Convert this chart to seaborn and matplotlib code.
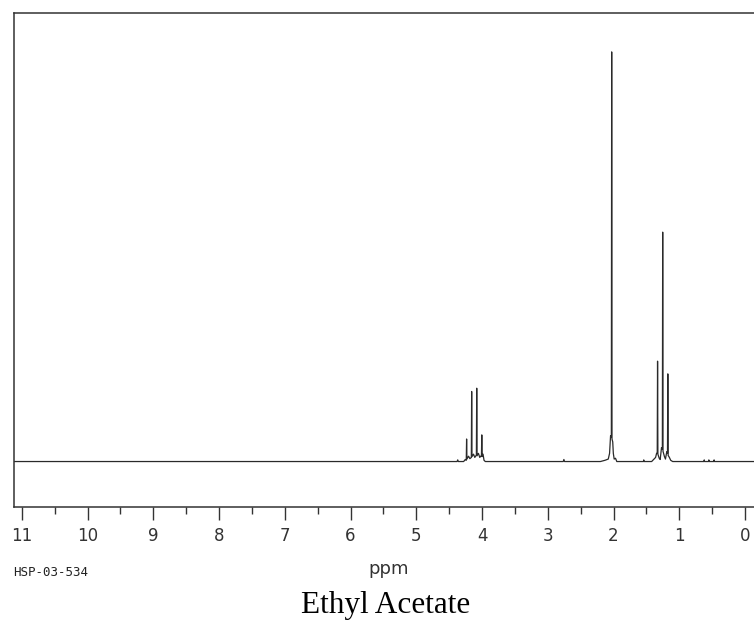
import matplotlib
matplotlib.use("Agg")
import matplotlib.pyplot as plt
from matplotlib.ticker import MultipleLocator
import seaborn as sns
import pandas as pd

# 1H NMR trace of ethyl acetate (intensity: tallest peak = 100)
ppm = [
    11.12, 4.38, 4.37, 4.36,
    4.28, 4.255, 4.24, 4.235, 4.23, 4.205, 4.185, 4.163, 4.158, 4.153,
    4.13, 4.11, 4.086, 4.081, 4.076, 4.055, 4.035, 4.009, 4.004, 3.999,
    3.985, 3.97, 3.95,
    2.765, 2.755, 2.745,
    2.20, 2.13, 2.08, 2.06, 2.045, 2.033, 2.028, 2.023, 2.012, 2.003,
    1.99, 1.97, 1.95,
    1.545, 1.54, 1.535,
    1.42, 1.39, 1.36, 1.345, 1.335, 1.330, 1.325, 1.305, 1.29, 1.27,
    1.257, 1.252, 1.247, 1.225, 1.21, 1.19, 1.179, 1.174, 1.169, 1.15,
    1.13, 1.10,
    0.625, 0.62, 0.615, 0.555, 0.55, 0.545, 0.475, 0.47, 0.465,
    -0.14,
]
intensity = [
    0, 0, 0.4, 0,
    0, 0.5, 0.3, 5.5, 0.6, 1.3, 0.7, 1.0, 17.1, 1.2,
    1.8, 1.0, 1.6, 17.9, 1.4, 2.0, 1.0, 1.5, 6.5, 1.2,
    1.8, 0.3, 0,
    0, 0.5, 0,
    0, 0.3, 0.6, 2.0, 6.3, 6.0, 100, 5.5, 4.8, 2.0,
    0.6, 0.8, 0,
    0, 0.4, 0,
    0, 0.5, 1.0, 2.0, 2.0, 24.5, 1.8, 0.8, 0.5, 3.4,
    3.0, 56.0, 2.5, 1.2, 0.6, 2.4, 2.0, 21.4, 1.5, 1.0,
    0.3, 0,
    0, 0.4, 0, 0, 0.4, 0, 0, 0.4, 0,
    0,
]
major_ticks = list(range(0, 12))
tick_labels = [str(t) for t in major_ticks]

spectrum = pd.DataFrame({"ppm": ppm, "intensity": intensity})

sns.set_style("white")
plt.rcParams["font.family"] = ["DejaVu Sans"]

fig = plt.figure(figsize=(7.54, 6.21), dpi=100)
ax = fig.add_axes([14 / 754, 1 - 507 / 621, 740 / 754, 494 / 621])

sns.lineplot(data=spectrum, x="ppm", y="intensity", sort=False, estimator=None,
             color="#2a2a2a", linewidth=0.9, ax=ax)

ax.set_xlim(11.12, -0.137)
ax.set_ylim(-11.1, 109.5)

ax.set_xticks(major_ticks)
ax.set_xticklabels(tick_labels, fontsize=12, color="#333333")
ax.xaxis.set_minor_locator(MultipleLocator(0.5))
ax.tick_params(axis="x", which="major", direction="out", length=9.5, width=1,
               color="#333333", pad=5, bottom=True)
ax.tick_params(axis="x", which="minor", direction="out", length=5, width=1,
               color="#333333", bottom=True)
ax.set_yticks([])
ax.set_xlabel("")
ax.set_ylabel("")

for side in ["left", "top", "bottom"]:
    ax.spines[side].set_visible(True)
    ax.spines[side].set_color("#333333")
    ax.spines[side].set_linewidth(1.1)
ax.spines["right"].set_visible(False)

fig.text(389 / 754, 1 - 569 / 621, "ppm", ha="center", va="center",
         fontsize=13, color="#333333")
fig.text(13 / 754, 1 - 573 / 621, "HSP-03-534", ha="left", va="center",
         fontsize=9, family="DejaVu Sans Mono", color="#222222")
fig.text(386 / 754, 1 - 613 / 621, "Ethyl Acetate", ha="center", va="baseline",
         fontsize=22.5, family="Liberation Serif", color="black")

fig.savefig("out.png", dpi=100)
